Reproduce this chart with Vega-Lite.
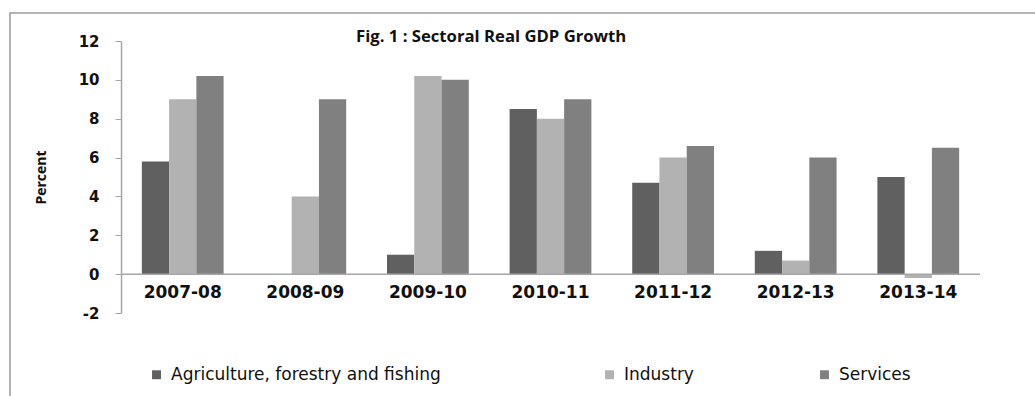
{
  "$schema": "https://vega.github.io/schema/vega-lite/v6.json",
  "width": 1040,
  "height": 400,
  "autosize": {"type": "none"},
  "padding": {"left": 10, "top": 13, "right": 0, "bottom": 0},
  "background": "white",
  "title": {
    "text": "Fig. 1 : Sectoral Real GDP Growth",
    "font": "Open Sans",
    "fontSize": 16.7,
    "fontWeight": "bold",
    "color": "#111111",
    "anchor": "start",
    "frame": "group",
    "offset": 0,
    "dx": 346,
    "dy": 33,
    "baseline": "top",
    "orient": "top"
  },
  "data": {
    "values": [
      {"year": "2007-08", "sector": "Agriculture, forestry and fishing", "value": 5.8},
      {"year": "2007-08", "sector": "Industry", "value": 9.0},
      {"year": "2007-08", "sector": "Services", "value": 10.2},
      {"year": "2008-09", "sector": "Agriculture, forestry and fishing", "value": 0.0},
      {"year": "2008-09", "sector": "Industry", "value": 4.0},
      {"year": "2008-09", "sector": "Services", "value": 9.0},
      {"year": "2009-10", "sector": "Agriculture, forestry and fishing", "value": 1.0},
      {"year": "2009-10", "sector": "Industry", "value": 10.2},
      {"year": "2009-10", "sector": "Services", "value": 10.0},
      {"year": "2010-11", "sector": "Agriculture, forestry and fishing", "value": 8.5},
      {"year": "2010-11", "sector": "Industry", "value": 8.0},
      {"year": "2010-11", "sector": "Services", "value": 9.0},
      {"year": "2011-12", "sector": "Agriculture, forestry and fishing", "value": 4.7},
      {"year": "2011-12", "sector": "Industry", "value": 6.0},
      {"year": "2011-12", "sector": "Services", "value": 6.6},
      {"year": "2012-13", "sector": "Agriculture, forestry and fishing", "value": 1.2},
      {"year": "2012-13", "sector": "Industry", "value": 0.7},
      {"year": "2012-13", "sector": "Services", "value": 6.0},
      {"year": "2013-14", "sector": "Agriculture, forestry and fishing", "value": 5.0},
      {"year": "2013-14", "sector": "Industry", "value": -0.2},
      {"year": "2013-14", "sector": "Services", "value": 6.5}
    ]
  },
  "layer": [
    {
      "mark": {"type": "bar", "cornerRadius": 0},
      "encoding": {
        "x": {
          "field": "year",
          "type": "nominal",
          "sort": null,
          "scale": {"paddingInner": 0.333, "paddingOuter": 0.17, "range": [111, 970]},
          "axis": {
            "title": null,
            "labelAngle": 0,
            "labelFont": "DejaVu Sans",
            "labelFontSize": 17,
            "labelFontWeight": "bold",
            "labelColor": "#111111",
            "labelPadding": 10,
            "ticks": false,
            "domain": false,
            "offset": -139
          }
        },
        "xOffset": {
          "field": "sector",
          "type": "nominal",
          "sort": ["Agriculture, forestry and fishing", "Industry", "Services"],
          "scale": {"paddingInner": 0, "paddingOuter": 0}
        },
        "y": {
          "field": "value",
          "type": "quantitative",
          "scale": {"domain": [-2, 12], "nice": false, "zero": false, "range": [300, 28]},
          "axis": {
            "title": "Percent",
            "titleFont": "Open Sans",
            "titleFontSize": 14,
            "titleFontWeight": "bold",
            "titleColor": "#111111",
            "titlePadding": 30,
            "offset": -111,
            "values": [-2, 0, 2, 4, 6, 8, 10, 12],
            "labelExpr": "datum.value < 0 ? '-' + abs(datum.value) : '' + datum.value",
            "grid": false,
            "labelFont": "DejaVu Sans",
            "labelFontSize": 15,
            "labelFontWeight": "bold",
            "labelColor": "#111111",
            "labelPadding": 16,
            "tickSize": 6,
            "tickColor": "#a6a6a6",
            "domainColor": "#a6a6a6",
            "domainWidth": 1.5
          }
        },
        "color": {
          "field": "sector",
          "type": "nominal",
          "sort": ["Agriculture, forestry and fishing", "Industry", "Services"],
          "scale": {
            "domain": ["Agriculture, forestry and fishing", "Industry", "Services"],
            "range": ["#606060", "#b2b2b2", "#808080"]
          },
          "legend": {
            "title": null,
            "orient": "none",
            "direction": "horizontal",
            "legendX": 138,
            "legendY": 353,
            "symbolType": "square",
            "symbolSize": 80,
            "symbolStrokeWidth": 0,
            "labelFont": "DejaVu Sans",
            "labelFontSize": 17,
            "labelColor": "#111111",
            "labelOffset": 6,
            "columnPadding": 122,
            "labelLimit": 500,
            "labelExpr": "datum.label == 'Agriculture, forestry and fishing' ? datum.label + '\u2800\u2800\u2800' : datum.label"
          }
        }
      }
    },
    {
      "data": {"values": [{"start": 0, "end": 1, "zero": 0}]},
      "mark": {"type": "rule", "color": "#a6a6a6", "strokeWidth": 1.5},
      "encoding": {
        "x": {
          "field": "start",
          "type": "quantitative",
          "scale": {"domain": [0, 1], "range": [111, 970]},
          "axis": null
        },
        "x2": {"field": "end"},
        "y": {"field": "zero", "type": "quantitative"}
      }
    }
  ],
  "resolve": {"scale": {"x": "independent"}},
  "config": {
    "view": {"stroke": "#9a9a9a", "strokeWidth": 1.5}
  }
}
